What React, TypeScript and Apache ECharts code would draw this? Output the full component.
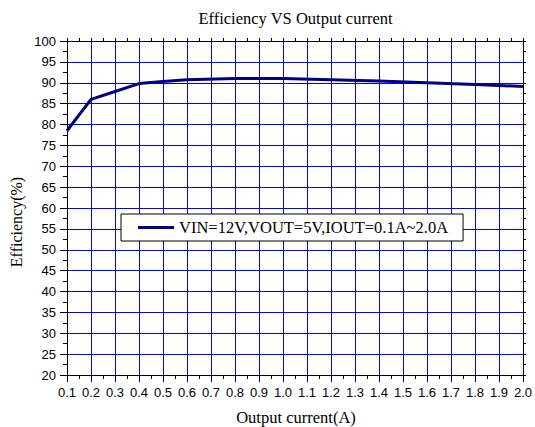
import React, { useEffect, useRef } from "react";
import * as echarts from "echarts";

const currents = [0.1, 0.2, 0.3, 0.4, 0.5, 0.6, 0.8, 1.0, 1.2, 1.4, 1.6, 1.8, 2.0];
const efficiency = [78.5, 86.0, 87.9, 89.8, 90.3, 90.7, 91.0, 91.0, 90.7, 90.4, 90.0, 89.6, 89.1];
const seriesName = "VIN=12V,VOUT=5V,IOUT=0.1A~2.0A";
const chartTitle = "Efficiency VS Output current";
const xTitle = "Output current(A)";
const yTitle = "Efficiency(%)";

const SERIF = "'Liberation Serif', 'Times New Roman', serif";
const SANS = "'Liberation Sans', Arial, sans-serif";

export default function App() {
  const ref = useRef<HTMLDivElement>(null);
  useEffect(() => {
    if (!ref.current) return;
    const chart = echarts.init(ref.current, undefined, { renderer: "svg" });
    const axisLine = { show: true, lineStyle: { color: "#000", width: 1 } };
    chart.setOption({
      animation: false,
      backgroundColor: "#fff",
      grid: { left: 67, right: 11, top: 41, bottom: 52, containLabel: false },
      legend: {
        show: true,
        left: 121,
        top: 214,
        orient: "horizontal",
        padding: [5, 15, 5, 17],
        itemWidth: 36,
        itemHeight: 14,
        backgroundColor: "#fff",
        borderColor: "#000",
        borderWidth: 1,
        textStyle: { fontFamily: SERIF, fontSize: 16.5, color: "#000" },
        data: [{ name: seriesName, icon: "path://M0,6 L36,6 L36,9 L0,9 Z" }],
      },
      xAxis: [
        {
          type: "value",
          min: 0.1,
          max: 2.0,
          interval: 0.1,
          position: "bottom",
          axisLine,
          axisTick: { show: true, inside: false, length: 7, lineStyle: { color: "#000" } },
          minorTick: { show: true, splitNumber: 2, length: 4, lineStyle: { color: "#000" } },
          axisLabel: {
            margin: 11,
            fontFamily: SANS,
            fontSize: 13,
            color: "#000",
            formatter: (v: number) => v.toFixed(1),
          },
          splitLine: { show: true, lineStyle: { color: "#0000ff", width: 1 } },
        },
        {
          type: "value",
          min: 0.1,
          max: 2.0,
          interval: 0.1,
          position: "top",
          axisLine,
          axisTick: { show: true, inside: false, length: 3, lineStyle: { color: "#000" } },
          minorTick: { show: true, splitNumber: 2, length: 3, lineStyle: { color: "#000" } },
          axisLabel: { show: false },
          splitLine: { show: false },
        },
      ],
      yAxis: [
        {
          type: "value",
          min: 20,
          max: 100,
          interval: 5,
          position: "left",
          axisLine,
          axisTick: { show: true, inside: false, length: 7, lineStyle: { color: "#000" } },
          minorTick: { show: true, splitNumber: 2, length: 4, lineStyle: { color: "#000" } },
          axisLabel: { margin: 11, fontFamily: SANS, fontSize: 13, color: "#000" },
          splitLine: { show: true, lineStyle: { color: "#0000ff", width: 1 } },
        },
        {
          type: "value",
          min: 20,
          max: 100,
          interval: 5,
          position: "right",
          axisLine,
          axisTick: { show: true, inside: false, length: 3, lineStyle: { color: "#000" } },
          minorTick: { show: true, splitNumber: 2, length: 3, lineStyle: { color: "#000" } },
          axisLabel: { show: false },
          splitLine: { show: false },
        },
      ],
      series: [
        {
          name: seriesName,
          type: "line",
          xAxisIndex: 0,
          yAxisIndex: 0,
          data: currents.map((c, i) => [c, efficiency[i]]),
          symbol: "none",
          showSymbol: false,
          lineStyle: { color: "#000080", width: 3 },
          itemStyle: { color: "#000080" },
          z: 5,
        },
      ],
      graphic: [
        {
          type: "text",
          x: 295.5,
          y: 18,
          style: {
            text: chartTitle,
            font: `16.5px ${SERIF}`,
            fill: "#000",
            align: "center",
            verticalAlign: "middle",
          },
        },
        {
          type: "text",
          x: 296,
          y: 417,
          style: {
            text: xTitle,
            font: `16.5px ${SERIF}`,
            fill: "#000",
            align: "center",
            verticalAlign: "middle",
          },
        },
        {
          type: "text",
          x: 16,
          y: 222,
          rotation: Math.PI / 2,
          style: {
            text: yTitle,
            font: `16px ${SERIF}`,
            fill: "#000",
            align: "center",
            verticalAlign: "middle",
          },
        },
      ],
    });
    return () => chart.dispose();
  }, []);
  return (
    <div
      ref={ref}
      style={{ position: "fixed", left: 0, top: 0, width: 535, height: 427, background: "#fff" }}
    />
  );
}
